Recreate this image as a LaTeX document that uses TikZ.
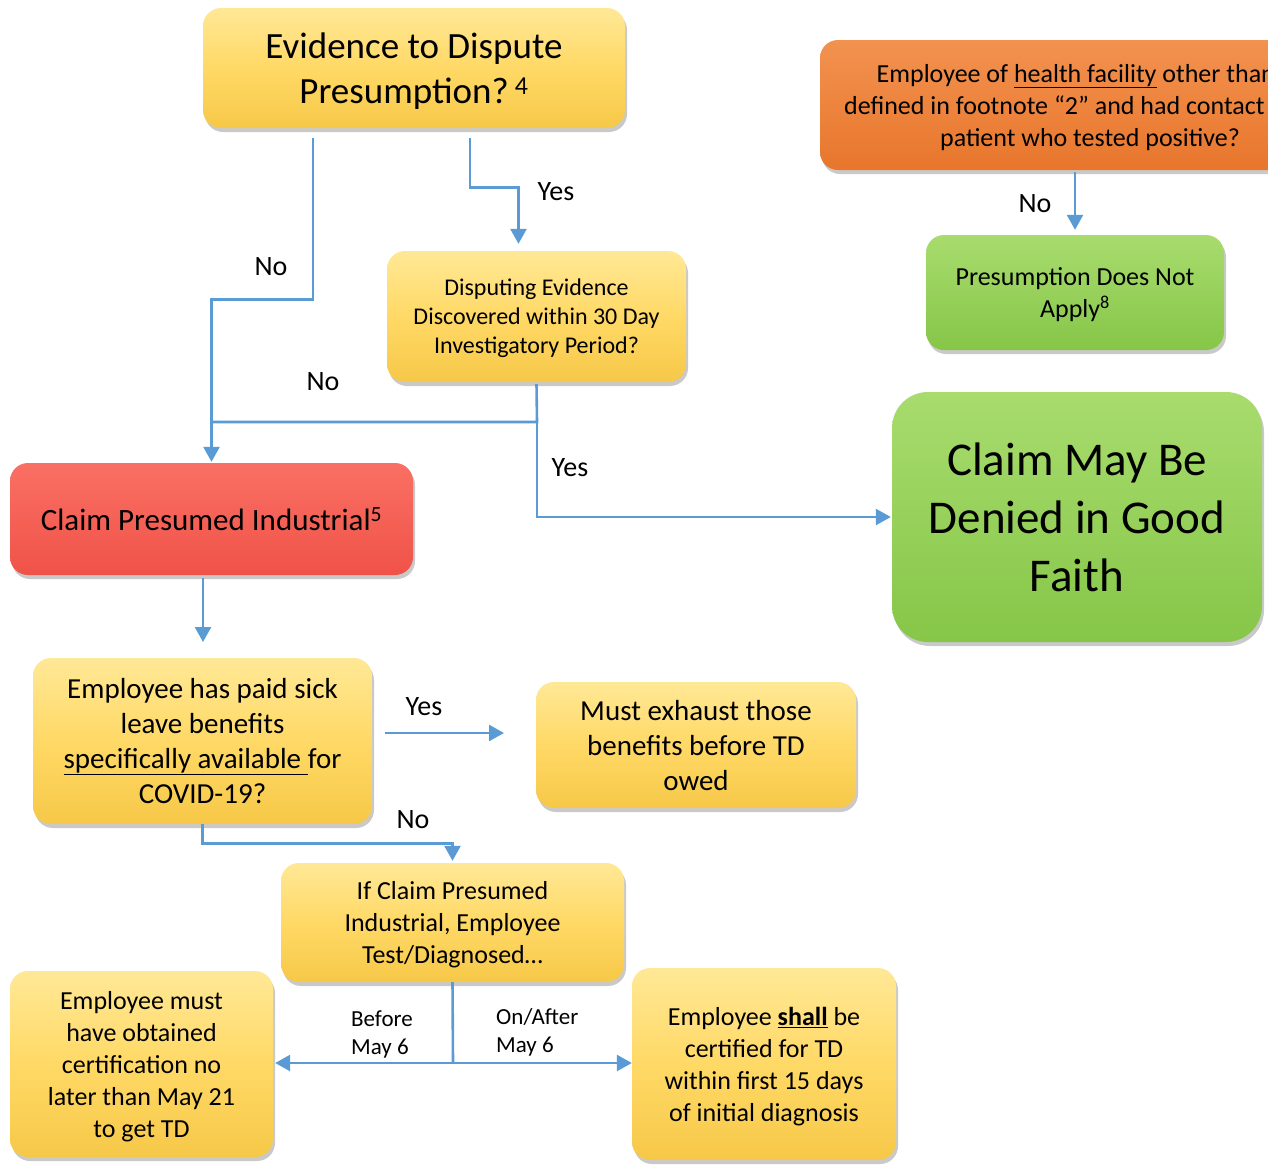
\documentclass[tikz,border=0pt]{standalone}
\usepackage{fontspec}
\setmainfont{Carlito}
\usepackage{xcolor}
\usetikzlibrary{arrows.meta,shadows}
\definecolor{yelltop}{RGB}{255,232,150}
\definecolor{yellmid}{RGB}{255,217,102}
\definecolor{yellbot}{RGB}{246,200,72}
\definecolor{redtop}{RGB}{250,112,100}
\definecolor{redbot}{RGB}{240,82,72}
\definecolor{orngtop}{RGB}{242,146,80}
\definecolor{orngbot}{RGB}{232,118,44}
\definecolor{grntop}{RGB}{168,220,110}
\definecolor{grnbot}{RGB}{134,198,72}
\definecolor{linkblue}{RGB}{91,155,213}

\tikzset{
	box/.style={rectangle, rounded corners=18pt, inner sep=0pt, align=center, text depth=0pt,
		drop shadow={shadow xshift=2pt, shadow yshift=-4pt, opacity=0.3, fill=black!70}},
	yelbox/.style={box, top color=yelltop, bottom color=yellbot, middle color=yellmid},
	redbox/.style={box, top color=redtop, bottom color=redbot},
	orngbox/.style={box, top color=orngtop, bottom color=orngbot},
	grnbox/.style={box, top color=grntop, bottom color=grnbot},
	wire/.style={draw=linkblue, line width=2.6pt},
	link/.style={wire, -{Triangle[length=15pt,width=16pt]}},
	lbl/.style={inner sep=0pt, font=\fontsize{28}{33}\selectfont},
	datelbl/.style={inner sep=0pt, align=left, font=\fontsize{23}{28}\selectfont}
}

\begin{document}
\begin{tikzpicture}[x=1pt,y=-1pt]
	\useasboundingbox (0,0) rectangle (1268,1168);
	\clip (0,0) rectangle (1268,1168);
	
	% boxes
	\node[yelbox, minimum width=422pt, minimum height=120pt, font=\fontsize{37}{45}\selectfont] (dispute) at (414,68)
		{Evidence to Dispute\\Presumption?\,\textsuperscript{4}};
	\node[orngbox, minimum width=540pt, minimum height=130pt, font=\fontsize{26}{32}\selectfont] (healthfac) at (1090,105)
		{Employee of \underline{health facility} other than as\\defined in footnote “2” and had contact with a\\patient who tested positive?};
	\node[grnbox, minimum width=298pt, minimum height=115pt, font=\fontsize{26}{32}\selectfont] (notapply) at (1075,292.5)
		{Presumption Does Not\\Apply\textsuperscript{8}};
	\node[yelbox, minimum width=299pt, minimum height=131pt, font=\fontsize{24}{29}\selectfont] (disputing) at (536.5,316.5)
		{Disputing Evidence\\Discovered within 30 Day\\Investigatory Period?};
	\node[grnbox, rounded corners=36pt, minimum width=370pt, minimum height=250pt, font=\fontsize{47}{58}\selectfont] (denied) at (1077,517)
		{Claim May Be\\Denied in Good\\Faith};
	\node[redbox, minimum width=403pt, minimum height=112pt, font=\fontsize{31}{37}\selectfont] (industrial) at (211.5,519)
		{Claim Presumed Industrial\textsuperscript{5}};
	\node[yelbox, minimum width=339pt, minimum height=166pt, font=\fontsize{29}{35}\selectfont] (sickleave) at (202.5,741)
		{Employee has paid sick\\leave benefits\\\underline{specifically available }for\\COVID-19?};
	\node[yelbox, minimum width=320pt, minimum height=126pt, font=\fontsize{29}{35}\selectfont] (exhaust) at (696,745)
		{Must exhaust those\\benefits before TD\\owed};
	\node[yelbox, minimum width=343pt, minimum height=119pt, font=\fontsize{26}{32}\selectfont] (testdiag) at (452.5,922.5)
		{If Claim Presumed\\Industrial, Employee\\Test/Diagnosed…};
	\node[yelbox, minimum width=263pt, minimum height=186pt, font=\fontsize{26}{32}\selectfont] (before) at (141.5,1064)
		{Employee must\\have obtained\\certification no\\later than May 21\\to get TD};
	\node[yelbox, minimum width=264pt, minimum height=192pt, font=\fontsize{26}{32}\selectfont] (onafter) at (764,1064)
		{Employee \underline{\textbf{shall}} be\\certified for TD\\within first 15 days\\of initial diagnosis};
	
	% connectors
	\coordinate (split) at (537,422);
	\coordinate (sicktop) at (203,642);
	\coordinate (yesfrom) at (385,733);
	\coordinate (yesto) at (504,733);
	\coordinate (fork) at (453,1063);
	
	\draw[link] ([xshift=-101pt,yshift=-10pt]dispute.south) -- ++(0,161) -| ([yshift=1pt]industrial.north);
	\draw[link] ([xshift=56pt,yshift=-10pt]dispute.south) -- ++(0,49) -| ([xshift=-18pt,yshift=7pt]disputing.north);
	\draw[wire] ([yshift=-2pt]disputing.south) -- (split) -- (split -| industrial.north);
	\draw[link] (split) |- ([xshift=-1pt]denied.west);
	\draw[link] ([yshift=-2pt]healthfac.south -| notapply.north) -- ([yshift=5pt]notapply.north);
	\draw[link] ([yshift=-3pt]industrial.south -| sicktop) -- (sicktop);
	\draw[link] (yesfrom) -- (yesto);
	\draw[link] (sickleave.south) -- ++(0,19) -| ([yshift=2pt]testdiag.north);
	\draw[wire] (testdiag.south) -- (fork);
	\draw[link] (fork) -- ([xshift=2pt]fork -| before.east);
	\draw[link] (fork) -- (fork -| onafter.west);
	
	% labels
	\node[lbl] (nodispute) at (271,267) {No};
	\node[lbl] (yesdispute) at (556,192) {Yes};
	\node[lbl] (nodisputing) at (323,382) {No};
	\node[lbl] (yesdisputing) at (570,468) {Yes};
	\node[lbl] (nohealth) at (1035,204) {No};
	\node[lbl] (yessick) at (424,707) {Yes};
	\node[lbl] (nosick) at (413,820) {No};
	\node[datelbl] (beforelbl) at (382,1034) {Before\\May 6};
	\node[datelbl, anchor=west] (afterlbl) at (496,1032) {On/After\\May 6};
	
\end{tikzpicture}
\end{document}
